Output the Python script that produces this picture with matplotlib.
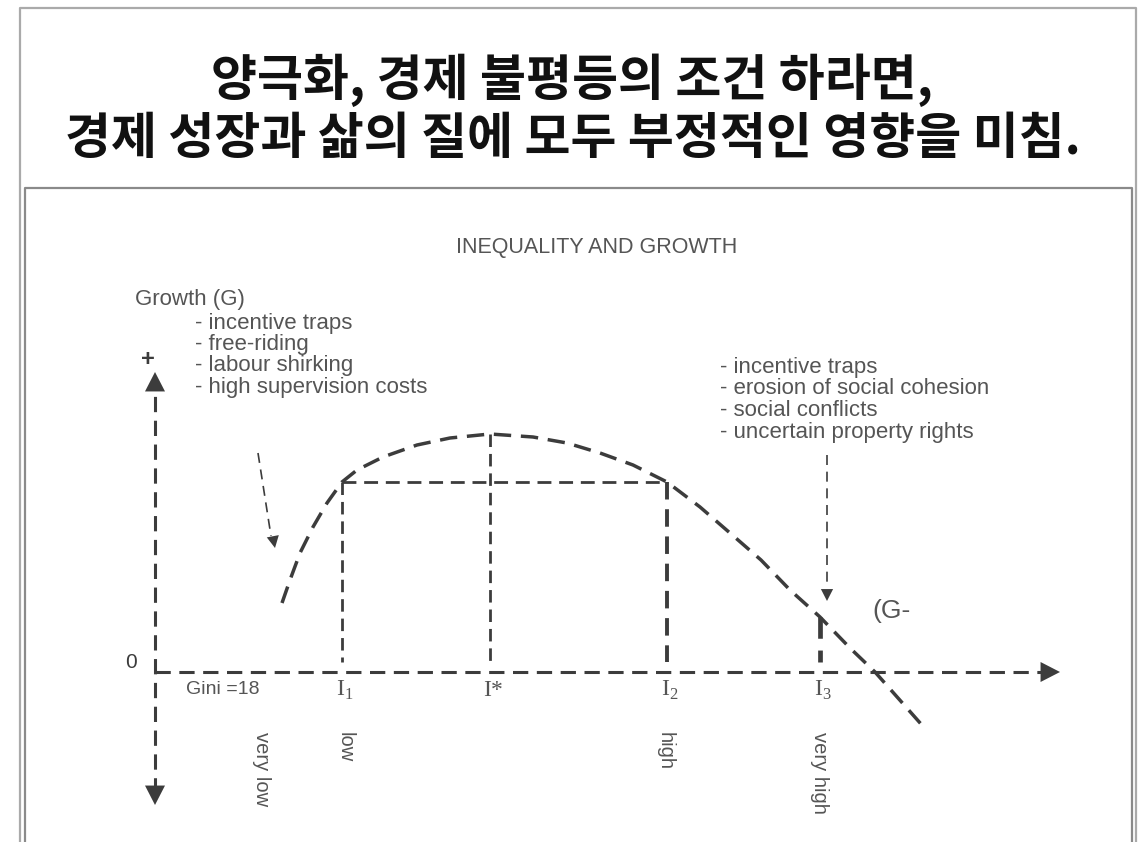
#------------Imports----------------------------------#
import matplotlib
matplotlib.use('Agg')
import matplotlib.pyplot as plt
from matplotlib.lines import Line2D
#-----------------------------------------------------#

plt.rcParams['font.family'] = ['Liberation Sans', 'DejaVu Sans']
plt.rcParams['mathtext.fontset'] = 'custom'
plt.rcParams['mathtext.rm'] = 'Liberation Serif'

#----Data (x = inequality, y = growth, arbitrary diagram units)--------------#
title_lines = ['양극화, 경제 불평등의 조건 하라면,',
               '경제 성장과 삶의 질에 모두 부정적인 영향을 미침.']
chart_title = 'INEQUALITY AND GROWTH'
left_causes = ['- incentive traps', '- free-riding', '- labour shirking',
               '- high supervision costs']
right_causes = ['- incentive traps', '- erosion of social cohesion',
                '- social conflicts', '- uncertain property rights']

curve_x = [127, 135, 145, 158, 172, 187, 202, 228, 262, 295, 335, 378, 412,
           445, 478, 512, 545, 575, 606, 635, 665, 695, 720, 743, 766]
curve_y = [69, 92, 119, 145, 169, 190, 202, 215, 227, 234, 238, 235, 229,
           219, 207, 190, 165, 139, 112, 82, 55, 24, 0, -26, -52]

ineq_x = [187, 335, 512, 665]                 # I1, I*, I2, I3
ineq_g = [190, 238, 190, 55]                  # growth at those points
ineq_lab = [r'$\mathrm{I}_1$', 'I*', r'$\mathrm{I}_2$', r'$\mathrm{I}_3$']
level_lab = ['very low', 'low', 'high', 'very high']
level_x = [106, 190, 510, 665]
y_axis = (-133, 300)
x_axis_end = 905
#------------------------------------------------------------------------------#

c = '#3c3c3c'
tc = '#555555'
W, H = 1138, 842

fig = plt.figure(figsize=(11.38, 8.42), dpi=100)
ax = fig.add_axes([0, 0, 1, 1])
ax.set_xlim(-155, 983)
ax.set_ylim(-170, 672)
ax.axis('off')

#----frames--------------------------------------------------------------------#
def frame(l, t, r, col, lw):
    xs = [l / W, l / W, r / W, r / W]
    ys = [0, 1 - t / H, 1 - t / H, 0]
    fig.add_artist(Line2D(xs, ys, color=col, lw=lw, transform=fig.transFigure))

frame(19.5, 8, 1136, '#aaaaaa', 1.6)
frame(25, 188, 1132, '#8a8a8a', 1.6)

#----Korean title--------------------------------------------------------------#
kfont = ['Noto Sans CJK KR', 'DejaVu Sans']
fig.text(0.503, 1 - 80 / H, title_lines[0], ha='center', va='center', fontsize=36,
         weight='bold', family=kfont, color='#111111')
fig.text(0.503, 1 - 139 / H, title_lines[1], ha='center', va='center', fontsize=36,
         weight='bold', family=kfont, color='#111111')

#----axes lines----------------------------------------------------------------#
dash = (0, (5, 2.8))
ax.plot([0, 0], [y_axis[0] + 12, y_axis[1] - 12], color=c, lw=2.2, ls=dash)
ax.plot([0, x_axis_end - 14], [0, 0], color=c, lw=2.2, ls=dash)

def head(tip, base, size=1.0):
    ax.annotate('', xy=tip, xytext=base,
                arrowprops=dict(arrowstyle='-|>,head_length=%.2f,head_width=%.2f' % (0.7 * size, 0.36 * size),
                                mutation_scale=20, color=c, lw=0, shrinkA=0, shrinkB=0))

head((0, y_axis[1]), (0, y_axis[1] - 25))
head((0, y_axis[0]), (0, y_axis[0] + 25))
head((x_axis_end, 0), (x_axis_end - 25, 0))

#----curve and guide lines-----------------------------------------------------#
ax.plot(curve_x, curve_y, color=c, lw=2.5, ls=dash)
ax.plot([ineq_x[0], ineq_x[2]], [ineq_g[0], ineq_g[2]], color=c, lw=2.0, ls=dash)
widths = [2.0, 2.0, 2.8, 3.4]
for xi, gi, w in zip(ineq_x, ineq_g, widths):
    ax.plot([xi, xi], [gi, 10], color=c, lw=w, ls=(0, (4.5, 2.5)))

#----small pointer arrows------------------------------------------------------#
ax.plot([103, 116], [219, 136], color=c, lw=1.2, ls=(0, (6, 4)))
head((120, 124), (117, 140), 0.62)
ax.plot([672, 672], [217, 88], color=c, lw=1.2, ls=(0, (6, 4)))
head((672, 71), (672, 90), 0.62)

#----texts---------------------------------------------------------------------#
ax.text(442, 425, chart_title, ha='center', va='center', fontsize=15.5, color=tc)
ax.text(-20, 372, 'Growth (G)', ha='left', va='center', fontsize=16, color=tc)
for i, s in enumerate(left_causes):
    ax.text(40, 349 - i * 21.5, s, ha='left', va='center', fontsize=16, color=tc)
for i, s in enumerate(right_causes):
    ax.text(565, 305 - i * 21.7, s, ha='left', va='center', fontsize=16, color=tc)
ax.text(-7, 312, '+', ha='center', va='center', fontsize=17, weight='bold', color=c)
ax.text(-24, 10, '0', ha='center', va='center', fontsize=15, color=c)
ax.text(717, 61, '(G-', ha='left', va='center', fontsize=19, color=tc)
ax.text(31, -17, 'Gini =18', ha='left', va='center', fontsize=14, color=tc)
for xi, s in zip(ineq_x, ineq_lab):
    ax.text(xi + 3, -18, s, ha='center', va='center', fontsize=17, color=tc,
            family='Liberation Serif')
for xi, s in zip(level_x, level_lab):
    ax.text(xi, -60, s, ha='center', va='top', rotation=-90, fontsize=14.5, color=tc)

fig.savefig('out.png', dpi=100)
